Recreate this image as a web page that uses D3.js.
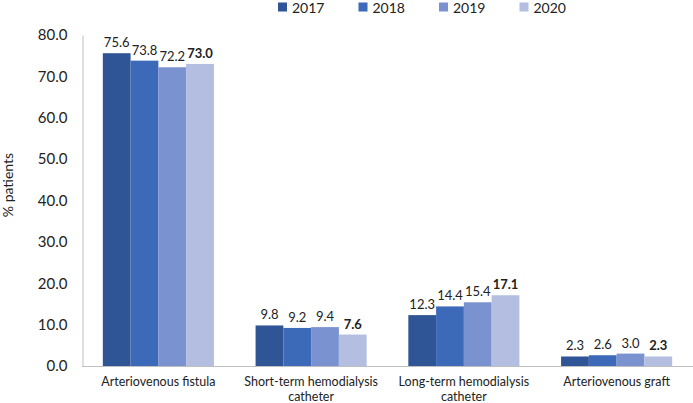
<!DOCTYPE html>
<html><head><meta charset="utf-8">
<script src="https://cdn.jsdelivr.net/npm/d3@7"></script>
<style>body{margin:0;background:#fff}svg{display:block}text{font-family:Lato,"Open Sans",sans-serif;fill:#222}</style>
</head><body><svg id="c" width="693" height="403"></svg>
<script>
const categories = [["Arteriovenous fistula"],["Short-term hemodialysis","catheter"],["Long-term hemodialysis","catheter"],["Arteriovenous graft"]];
const years = ["2017","2018","2019","2020"];
const v2017 = [75.6, 9.8, 12.3, 2.3];
const v2018 = [73.8, 9.2, 14.4, 2.6];
const v2019 = [72.2, 9.4, 15.4, 3.0];
const v2020 = [73.0, 7.6, 17.1, 2.3];
const yTicks = [0,10,20,30,40,50,60,70,80];
const colors = ["#2f5597","#3d69b9","#7a92cf","#b3bee0"];

const series = [v2017, v2018, v2019, v2020];
const svg = d3.select("#c");
const x0 = d3.scaleBand().domain(d3.range(categories.length)).range([82, 693]).paddingInner(0).paddingOuter(0);
const x1 = d3.scaleBand().domain(years).range([0, x0.bandwidth()]).paddingOuter(0.75).paddingInner(0);
const y = d3.scaleLinear().domain([0, 80]).range([366, 35]);

// y axis labels
const yAxis = svg.append("g").attr("transform","translate(82.5,0)")
  .call(d3.axisLeft(y).tickValues(yTicks).tickFormat(d3.format(".1f")).tickSize(0).tickPadding(15));
yAxis.select(".domain").attr("stroke","#bfbfbf");
yAxis.selectAll("text").style("font-size","15px").style("font-family","Lato").attr("fill","#222");

// bars
categories.forEach((c,i)=>{
  const g = svg.append("g").attr("transform",`translate(${x0(i)},0)`);
  years.forEach((yr,j)=>{
    const v = series[j][i];
    g.append("rect").attr("x",x1(yr)).attr("width",x1.bandwidth()).attr("y",y(v)).attr("height",y(0)-y(v)).attr("fill",colors[j]);
    g.append("text").attr("x",x1(yr)+x1.bandwidth()/2).attr("y",y(v)-6).attr("text-anchor","middle")
      .style("font-size","13px").style("font-weight", j===3?"bold":"normal").text(v.toFixed(1));
  });
  const t = svg.append("text").attr("text-anchor","middle").style("font-size","12.5px");
  c.forEach((line,k)=>{
    t.append("tspan").attr("x",x0(i)+x0.bandwidth()/2).attr("y",386+k*14.5).text(line);
  });
});

// baseline
svg.append("line").attr("x1",82).attr("x2",693).attr("y1",y(0)+0.5).attr("y2",y(0)+0.5).attr("stroke","#bfbfbf");

// y title
svg.append("text").attr("transform","translate(13,185) rotate(-90)").attr("text-anchor","middle")
  .style("font-size","14px").text("% patients");

// legend
const lg = svg.append("g");
years.forEach((yr,j)=>{
  const lx = 278 + j*80.5;
  lg.append("rect").attr("x",lx).attr("y",2.5).attr("width",9).attr("height",9).attr("fill",colors[j]);
  lg.append("text").attr("x",lx+14).attr("y",12.5).style("font-size","14px").text(yr);
});
</script></body></html>
